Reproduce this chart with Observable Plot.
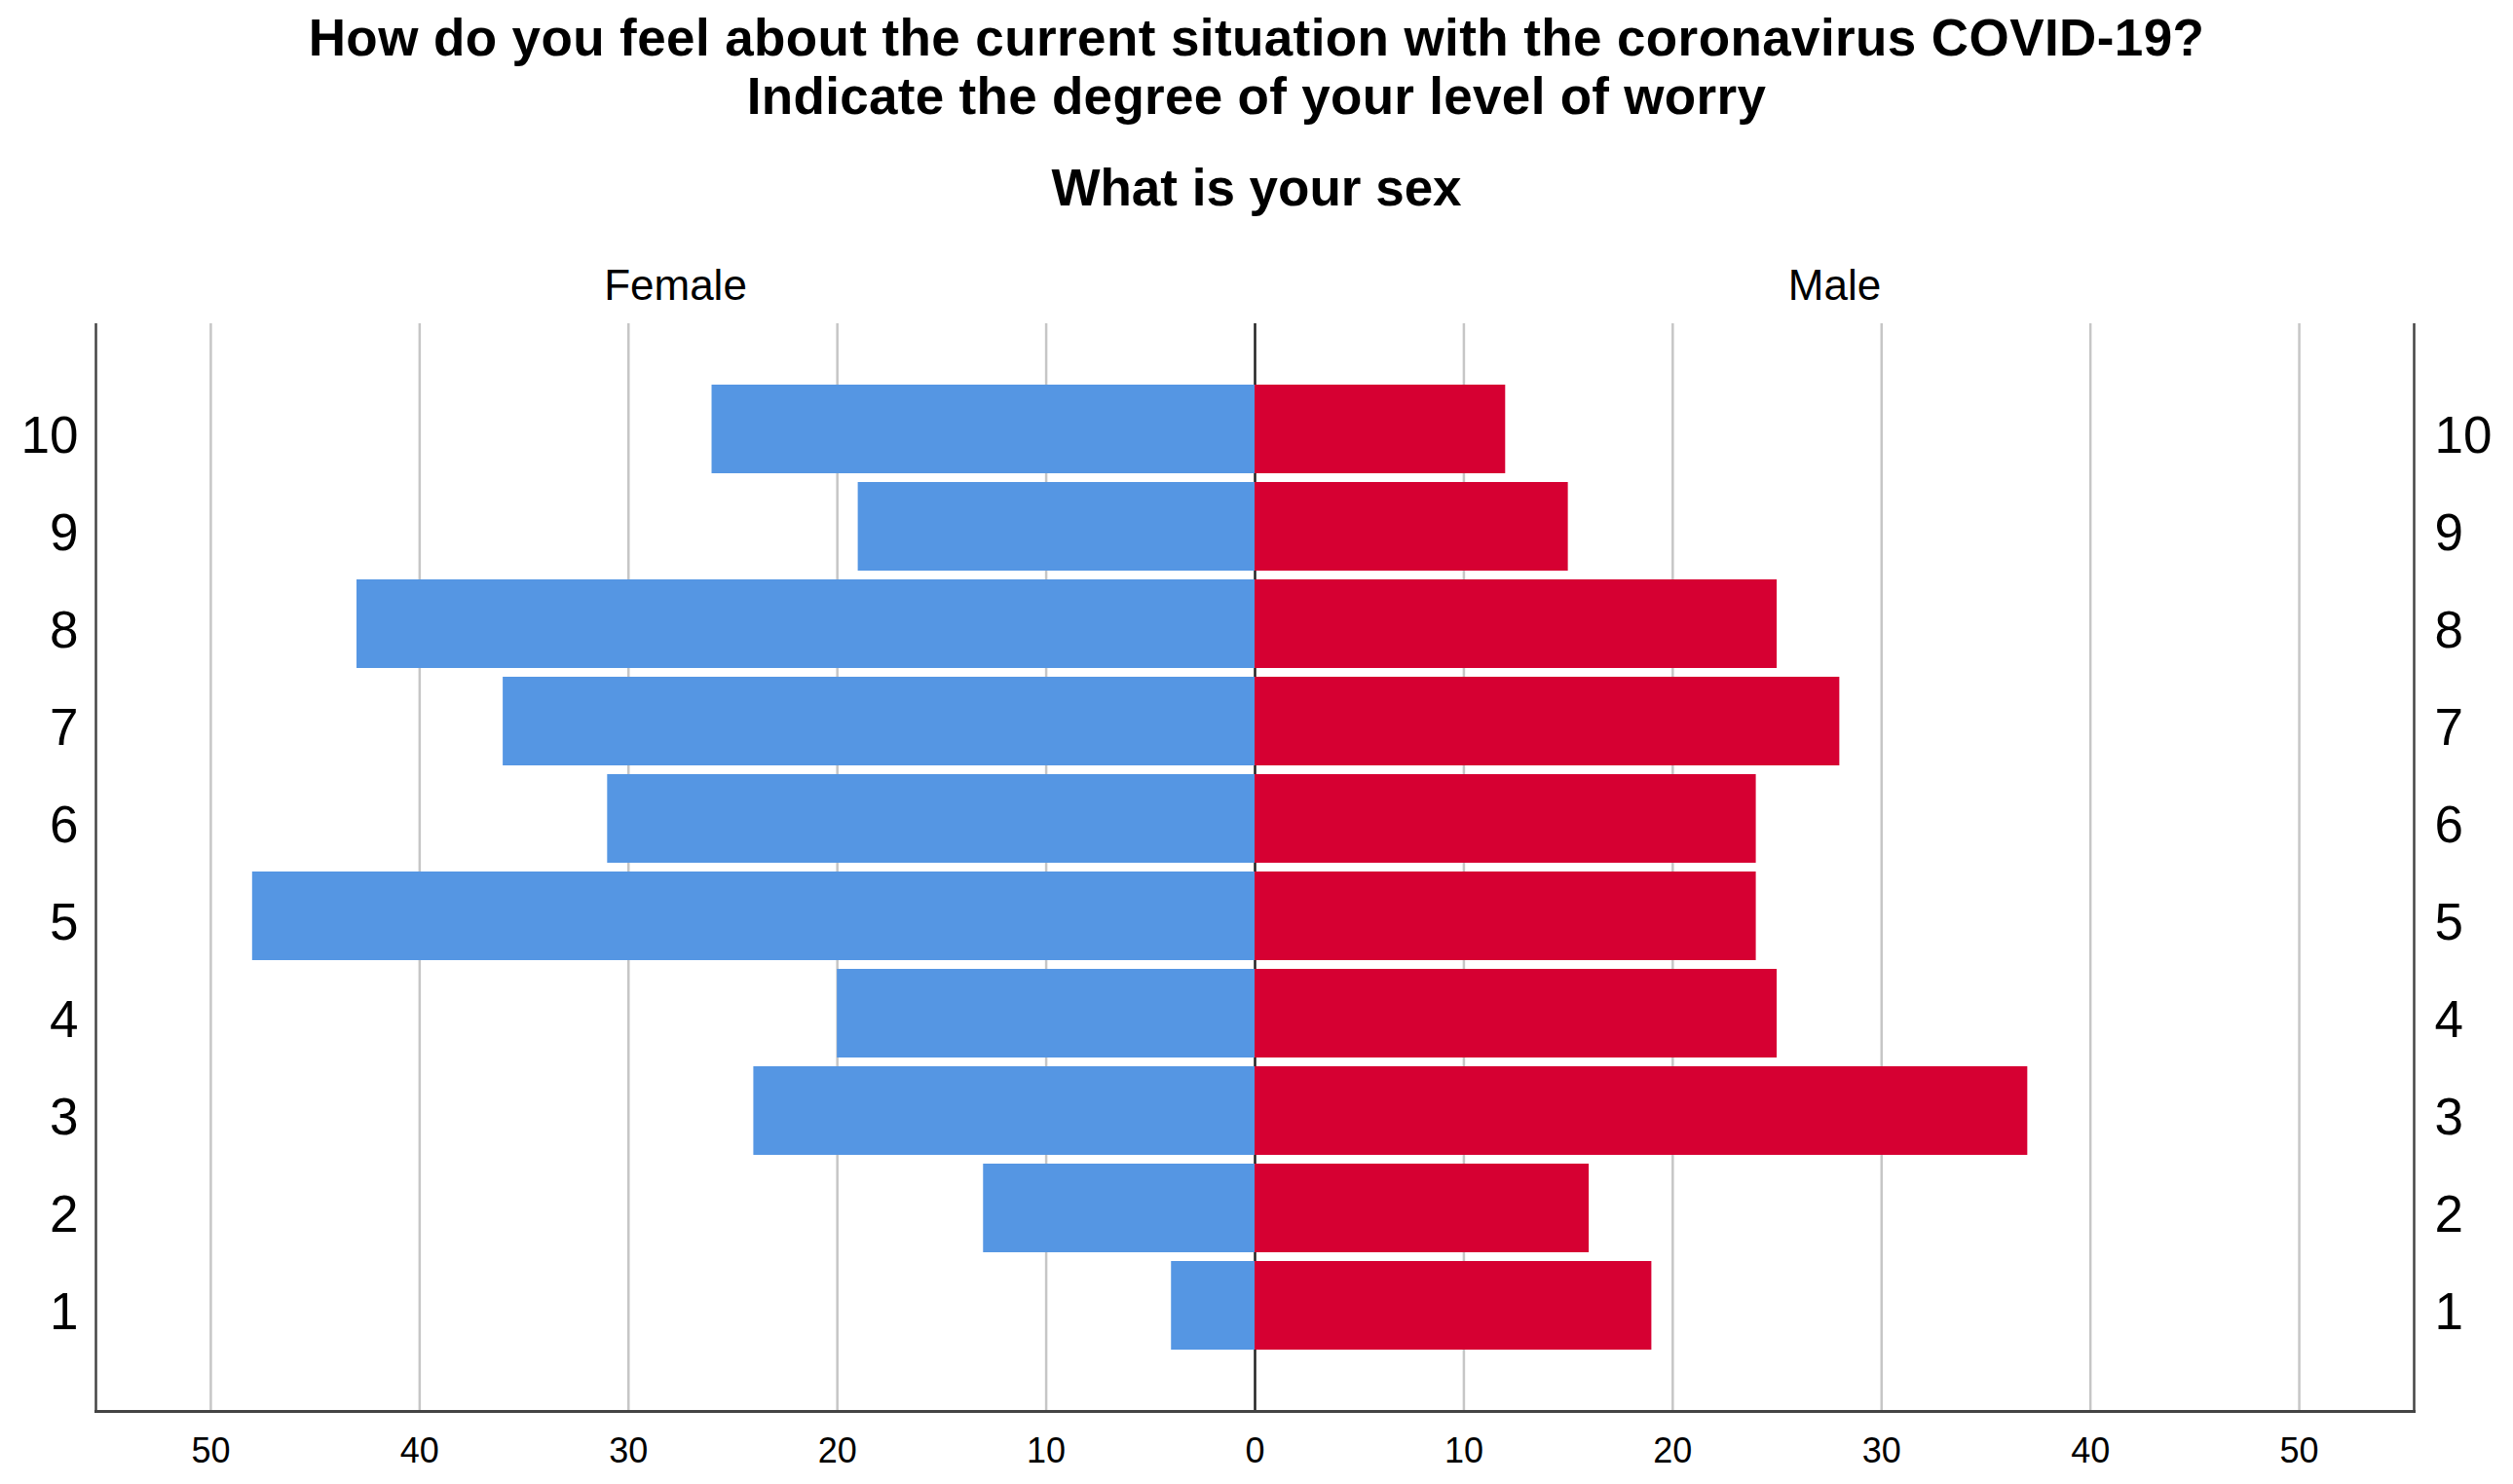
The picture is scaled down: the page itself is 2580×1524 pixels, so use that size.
<!DOCTYPE html>
<html><head><meta charset="utf-8">
<script src="https://cdn.jsdelivr.net/npm/d3@7"></script>
<script src="https://cdn.jsdelivr.net/npm/@observablehq/plot@0.6"></script>
<style>
html,body{margin:0;padding:0;background:#fff;}
body{width:2580px;height:1524px;overflow:hidden;font-family:"Liberation Sans",Arial,sans-serif;}
#title{height:220px;box-sizing:border-box;padding-top:12px;text-align:center;font-weight:bold;font-size:53px;line-height:53px;color:#000;}
#title .l1{letter-spacing:0.4px;}
#title .l2{margin-top:7px;letter-spacing:0.3px;}
#title .sub{margin-top:41px;}
#chart svg{display:block;}
</style></head><body>
<div id="title">
  <div class="l1">How do you feel about the current situation with the coronavirus COVID-19?</div>
  <div class="l2">Indicate the degree of your level of worry</div>
  <div class="sub">What is your sex</div>
</div>
<div id="chart"></div>
<script>
// Worry level categories (top to bottom)
const levels = ["10","9","8","7","6","5","4","3","2","1"];
// Counts per level
const female = [26, 19, 43, 36, 31, 48, 20, 24, 13, 4];
const male   = [12, 15, 25, 28, 24, 24, 25, 37, 16, 19];
const sexes = ["Female", "Male"];
const xTicks = [-50, -40, -30, -20, -10, 0, 10, 20, 30, 40, 50];
const xMax = 55.5;

const blue = "#5596E3";
const red = "#D60032";

const rows = levels.map((l, i) => ({level: l, female: female[i], male: male[i]}));
const headers = [{sex: sexes[0], x: -xMax / 2}, {sex: sexes[1], x: xMax / 2}];

const chart = Plot.plot({
  width: 2580,
  height: 1304,
  marginTop: 112,
  marginBottom: 75,
  marginLeft: 98,
  marginRight: 102,
  style: {fontFamily: '"Liberation Sans", Arial, sans-serif', color: "#000", background: "#fff"},
  x: {domain: [-xMax, xMax]},
  y: {domain: levels, paddingInner: 0.09, paddingOuter: 0.6, align: 0.5},
  marks: [
    Plot.ruleX(xTicks.filter(t => t !== 0), {stroke: "#c6c6c6", strokeWidth: 2.5}),
    Plot.ruleX([0], {stroke: "#222", strokeWidth: 2.5}),
    Plot.barX(rows, {x1: 0, x2: d => -d.female, y: "level", fill: blue}),
    Plot.barX(rows, {x1: 0, x2: "male", y: "level", fill: red}),
    Plot.ruleX([-xMax, xMax], {stroke: "#444", strokeWidth: 2.5}),
    Plot.frame({anchor: "bottom", stroke: "#444", strokeWidth: 3}),
    Plot.axisX({anchor: "bottom", ticks: xTicks, tickFormat: d => String(Math.abs(d)), tickSize: 0, tickPadding: 27, fontSize: 36, label: null}),
    Plot.axisX({anchor: "top", ticks: headers.map(h => h.x), tickFormat: d => d < 0 ? sexes[0] : sexes[1], tickSize: 0, tickPadding: 25, fontSize: 44, label: null}),
    Plot.axisY({anchor: "left", tickSize: 0, tickPadding: 18, fontSize: 53, dy: 7, label: null}),
    Plot.axisY({anchor: "right", tickSize: 0, tickPadding: 21, fontSize: 53, dy: 7, label: null})
  ]
});
document.getElementById("chart").appendChild(chart);
</script>
</body></html>
